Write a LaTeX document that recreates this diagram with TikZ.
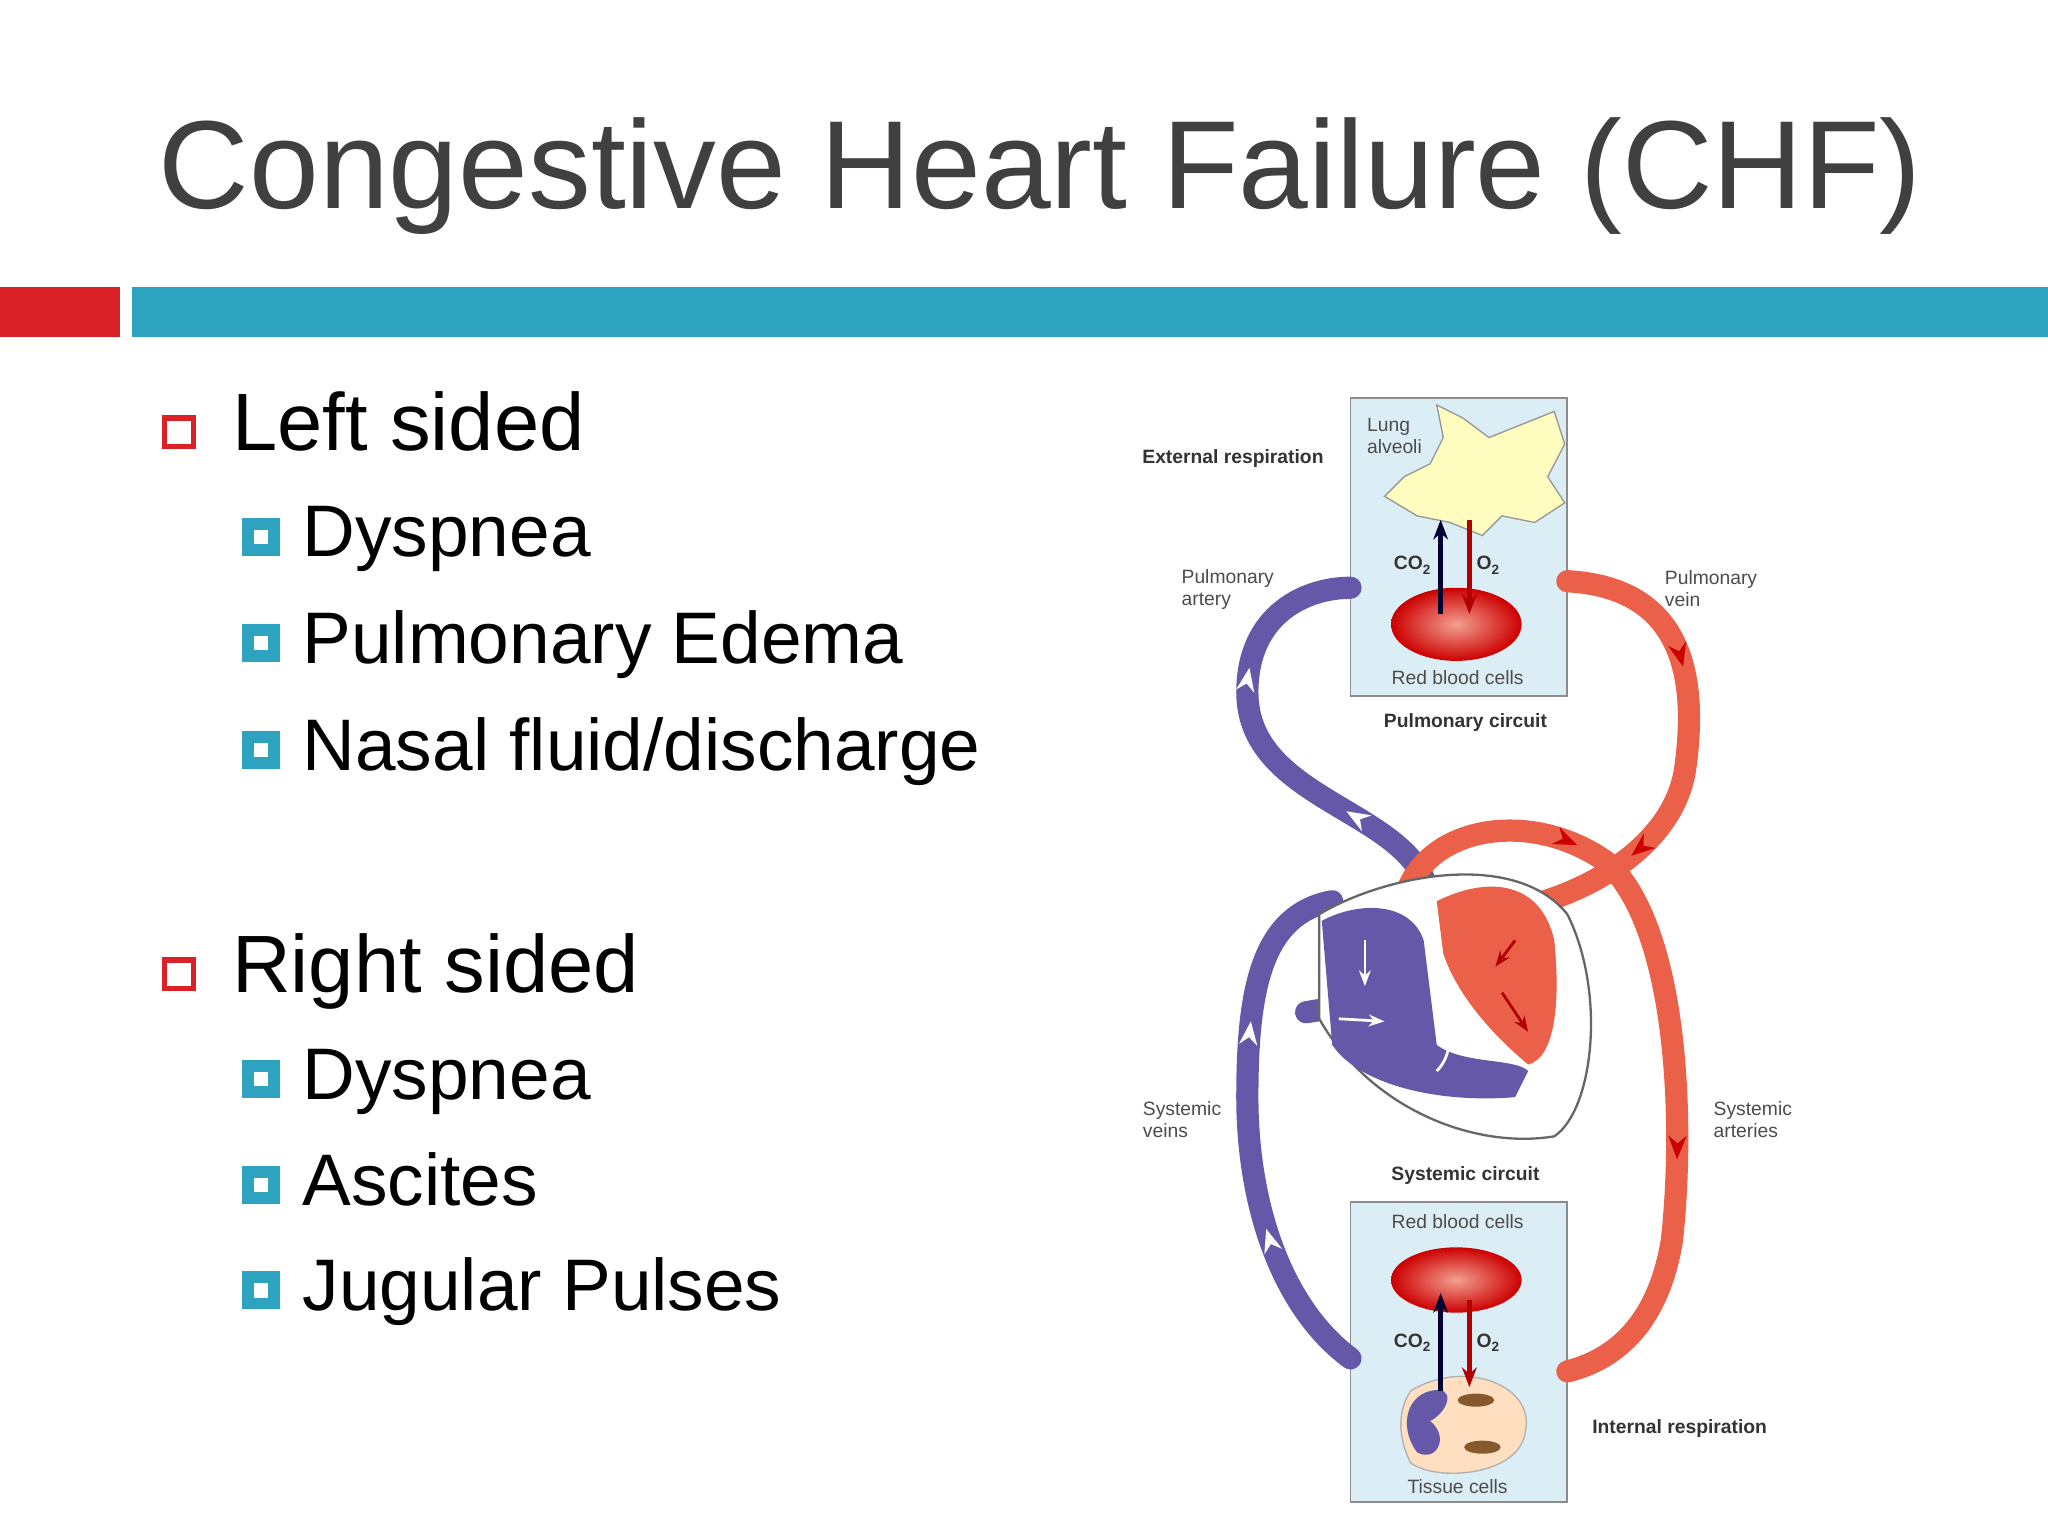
\documentclass[tikz,border=0pt]{standalone}
\usepackage{fontspec}
\setmainfont{Liberation Sans}
\usetikzlibrary{decorations.markings,arrows.meta}
\definecolor{ttl}{HTML}{404040}
\definecolor{teal}{HTML}{2EA3BF}
\definecolor{barred}{HTML}{DA2128}
\definecolor{vblue}{HTML}{6658A8}
\definecolor{vred}{HTML}{EA6048}
\definecolor{boxblue}{HTML}{DCEEF5}
\tikzset{
 mainb/.style={draw=barred,line width=1.2pt,fill=white,minimum size=0.22cm,inner sep=0pt},
 subb/.style={draw=teal,line width=2.6pt,fill=white,minimum size=0.2cm,inner sep=0pt},
 lbl/.style={font=\fontsize{17.7}{20}\selectfont,anchor=base west,text=black,inner sep=0pt},
 slbl/.style={font=\fontsize{15.9}{18}\selectfont,anchor=base west,text=black,inner sep=0pt},
 tiny/.style={font=\fontsize{4.2}{4.8}\selectfont,text=black!70,align=left,inner sep=0pt},
 tinyb/.style={font=\bfseries\fontsize{4.2}{4.8}\selectfont,text=black!80,inner sep=0pt},
 vessel/.style={line width=0.17cm,line cap=round},
 flow/.style={postaction={decorate},decoration={markings,
   mark=at position 0.3 with {\arrow[#1,line width=0.6pt]{Stealth[length=0.18cm,width=0.14cm]}},
   mark=at position 0.7 with {\arrow[#1,line width=0.6pt]{Stealth[length=0.18cm,width=0.14cm]}}}}
}
\begin{document}
\begin{tikzpicture}[x=0.01cm,y=-0.01cm]
\useasboundingbox[fill=white] (0,0) rectangle (1568,1176);
% title
\node[font=\fontsize{27.3}{30}\selectfont,text=ttl,anchor=base west,inner sep=0pt] (title) at (121,160) {Congestive Heart Failure (CHF)};
\fill[barred] (0,220) rectangle (92,258);
\fill[teal] (101,220) rectangle (1568,258);
% bullets
\node[mainb] (b1) at (137,331) {};
\node[lbl] (t1) at (177,345) {Left sided};
\node[subb] (s1) at (200,411) {}; \node[slbl] (u1) at (231,426) {Dyspnea};
\node[subb] (s2) at (200,492) {}; \node[slbl] (u2) at (231,508) {Pulmonary Edema};
\node[subb] (s3) at (200,574) {}; \node[slbl] (u3) at (231,590) {Nasal fluid/discharge};
\node[mainb] (b2) at (137,746) {};
\node[lbl] (t2) at (177,760) {Right sided};
\node[subb] (s4) at (200,826) {}; \node[slbl] (u4) at (231,842) {Dyspnea};
\node[subb] (s5) at (200,907) {}; \node[slbl] (u5) at (231,923) {Ascites};
\node[subb] (s6) at (200,988) {}; \node[slbl] (u6) at (231,1003) {Jugular Pulses};
% diagram: boxes
\draw[black!45,fill=boxblue] (1034,305) rectangle (1200,533);
\draw[black!45,fill=boxblue] (1034,920) rectangle (1200,1150);
% alveoli
\fill[yellow!25!white,draw=black!40,line width=0.3pt] (1100,310) -- (1120,320) -- (1140,335) -- (1165,325) -- (1190,315) -- (1198,340) -- (1185,365) -- (1198,385) -- (1175,400) -- (1150,395) -- (1135,410) -- (1110,400) -- (1085,395) -- (1060,380) -- (1075,365) -- (1095,355) -- (1105,335) -- cycle;
% vessels pulmonary
\draw[vessel,vblue,flow=white] (1095,700) .. controls (1100,620) and (955,620) .. (955,530) .. controls (955,470) and (1000,450) .. (1034,450);
\draw[vessel,vred,flow=red!80!black] (1200,445) .. controls (1290,450) and (1300,520) .. (1290,590) .. controls (1280,650) and (1210,690) .. (1140,700);
% systemic
\draw[vessel,vred,flow=red!80!black] (1075,730) .. controls (1055,640) and (1160,610) .. (1230,660) .. controls (1285,710) and (1290,860) .. (1280,950) .. controls (1270,1010) and (1240,1040) .. (1200,1050);
\draw[vessel,vblue,flow=white] (1034,1040) .. controls (980,1000) and (955,920) .. (955,840) .. controls (955,760) and (965,700) .. (1020,690);
\draw[vessel,vblue] (1000,775) -- (1030,770);
% heart
\draw[black!60,fill=white,line width=0.5pt] (1010,700) .. controls (1060,670) and (1160,650) .. (1200,700) .. controls (1230,760) and (1220,850) .. (1190,870) .. controls (1130,880) and (1050,850) .. (1010,780) -- cycle;
\fill[vblue] (1012,705) .. controls (1040,690) and (1080,690) .. (1090,720) -- (1100,800) .. controls (1120,815) and (1160,810) .. (1170,820) -- (1160,840) .. controls (1100,845) and (1040,830) .. (1020,800) -- cycle;
\fill[vred] (1100,690) .. controls (1140,670) and (1180,675) .. (1190,720) .. controls (1195,770) and (1190,810) .. (1170,815) .. controls (1140,790) and (1115,760) .. (1105,730) -- cycle;
\draw[white,line width=0.6pt,-{Stealth[length=0.12cm]}] (1045,720) -- (1045,755);
\draw[white,line width=0.6pt,-{Stealth[length=0.12cm]}] (1025,780) -- (1060,782);
\draw[white,line width=0.6pt,-{Stealth[length=0.12cm]}] (1100,820) .. controls (1120,800) and (1105,760) .. (1098,745);
\draw[red!70!black,line width=0.6pt,-{Stealth[length=0.12cm]}] (1160,720) -- (1145,740);
\draw[red!70!black,line width=0.6pt,-{Stealth[length=0.12cm]}] (1150,760) -- (1170,790);
% RBCs
\shade[inner color=vred!60!white,outer color=red!80!black] (1115,478) ellipse (50 and 28);
\shade[inner color=vred!60!white,outer color=red!80!black] (1115,980) ellipse (50 and 25);
% tissue
\fill[orange!25!white,draw=black!30,line width=0.3pt] (1080,1065) .. controls (1120,1040) and (1175,1060) .. (1168,1095) .. controls (1165,1130) and (1100,1135) .. (1080,1120) .. controls (1070,1100) and (1070,1080) .. (1080,1065);
\fill[vblue] (1095,1065) .. controls (1115,1060) and (1110,1080) .. (1095,1088) .. controls (1110,1100) and (1100,1120) .. (1085,1112) .. controls (1072,1095) and (1075,1070) .. (1095,1065);
\fill[brown!70!black] (1130,1072) ellipse (14 and 5);
\fill[brown!70!black] (1135,1108) ellipse (14 and 5);
% gas arrows
\draw[black!80!blue,line width=1.2pt,-{Stealth[length=0.15cm]}] (1103,470) -- (1103,398);
\draw[red!70!black,line width=1.2pt,-{Stealth[length=0.15cm]}] (1125,398) -- (1125,470);
\draw[black!80!blue,line width=1.2pt,-{Stealth[length=0.15cm]}] (1103,1065) -- (1103,990);
\draw[red!70!black,line width=1.2pt,-{Stealth[length=0.15cm]}] (1125,995) -- (1125,1062);
% labels
\node[tiny,anchor=west] (la) at (1046,334) {Lung\\alveoli};
\node[tinyb] (c1) at (1082,433) {CO\textsubscript{2}};
\node[tinyb] (o1) at (1140,433) {O\textsubscript{2}};
\node[tiny] (r1) at (1116,519) {Red blood cells};
\node[tinyb] (pc) at (1122,553) {Pulmonary circuit};
\node[tinyb] (er) at (944,351) {External respiration};
\node[tiny] (pa) at (940,451) {Pulmonary\\artery};
\node[tiny] (pv) at (1310,451) {Pulmonary\\vein};
\node[tiny] (sv) at (905,857) {Systemic\\veins};
\node[tiny] (sa) at (1342,857) {Systemic\\arteries};
\node[tinyb] (sc) at (1122,900) {Systemic circuit};
\node[tiny] (r2) at (1116,935) {Red blood cells};
\node[tinyb] (c2) at (1082,1028) {CO\textsubscript{2}};
\node[tinyb] (o2) at (1140,1028) {O\textsubscript{2}};
\node[tiny] (tc) at (1116,1138) {Tissue cells};
\node[tinyb] (ir) at (1286,1094) {Internal respiration};
\end{tikzpicture}
\end{document}
